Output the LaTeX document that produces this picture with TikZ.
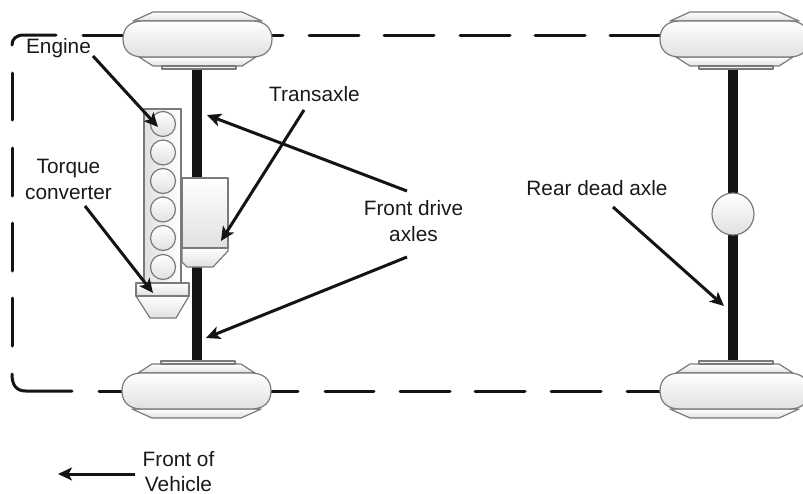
\documentclass[tikz,border=0pt]{standalone}
\usepackage{fontspec}
\setmainfont{Liberation Sans}
\usetikzlibrary{arrows.meta}
\definecolor{edgegray}{HTML}{7A7A7A}
\definecolor{axleblack}{HTML}{141414}
\tikzset{
  x=1pt,y=-1pt,
  part/.style={draw=edgegray,line width=1.2pt,line join=round,top color=white,bottom color=black!12},
  sidepart/.style={draw=edgegray,line width=1.2pt,line join=round,left color=black!12,right color=white},
  axle/.style={line width=10pt,color=axleblack},
  frameline/.style={line width=3pt,color=axleblack,line cap=round},
  pointer/.style={line width=3pt,color=axleblack,-{Stealth[length=14pt,width=13pt,inset=3.5pt]}},
  label/.style={font=\fontsize{20.8}{26}\selectfont,align=center,inner sep=0pt,text=black!90},
  wheel/.pic={
    \path[part] (-64,-18) -- (-44,-27) -- (45,-27) -- (65,-18) -- cycle;
    \path[part] (-58,18) -- (-44,27) -- (45,27) -- (59,18) -- cycle;
    \path[part] (-35,27) rectangle (39,30);
    \path[part] (-74,0) .. controls (-74,-12) and (-66,-18) .. (-54,-18) -- (55,-18) .. controls (67,-18) and (75,-12) .. (75,0) .. controls (75,12) and (67,18) .. (55,18) -- (-54,18) .. controls (-66,18) and (-74,12) .. (-74,0) -- cycle;
  }
}
\begin{document}
\begin{tikzpicture}
\useasboundingbox (0,0) rectangle (803,493);
% frame
\draw[frameline] (12,45) .. controls (12,39) and (16,35) .. (24,35) -- (56,35);
\draw[frameline] (83,35) -- (125,35) (270,35) -- (283,35) (309,35) -- (359,35) (384,35) -- (434,35) (460,35) -- (510,35) (535,35) -- (585,35) (610,35) -- (663,35);
\draw[frameline] (12,73) -- (12,120) (12,148) -- (12,196) (12,223) -- (12,271) (12,298) -- (12,346);
\draw[frameline] (12,374) .. controls (12,385) and (16,391) .. (26,391) -- (72,391);
\draw[frameline] (99,391) -- (125,391) (270,391) -- (298,391) (325,391) -- (374,391) (400,391) -- (450,391) (475,391) -- (525,391) (551,391) -- (601,391) (627,391) -- (663,391);
% axles
\coordinate (ftop) at (197,60);
\coordinate (fbot) at (197,370);
\coordinate (rtop) at (733,60);
\coordinate (rbot) at (733,370);
\draw[axle] (ftop) -- (fbot);
\draw[axle] (rtop) -- (rbot);
% wheels
\pic at (197,39) {wheel};
\pic[yscale=-1] at (196,391) {wheel};
\pic at (734,39) {wheel};
\pic[yscale=-1] at (734,391) {wheel};
% differential
\node[part,circle,minimum size=42pt,inner sep=0pt] (diff) at (733,214) {};
% engine
\node[sidepart,rectangle,minimum width=37pt,minimum height=174pt,inner sep=0pt] (block) at (162.5,196) {};
\foreach \n/\yy in {1/124,2/152.5,3/181,4/209.5,5/238,6/267}
  \node[part,circle,minimum size=25pt,inner sep=0pt] (cyl\n) at (163,\yy) {};
% transaxle
\path[part] (182,248) -- (228,248) -- (228,251) -- (213,267) -- (187,267) -- (182,262) -- cycle;
\node[part,rectangle,minimum width=46pt,minimum height=70pt,inner sep=0pt] (trans) at (205,213) {};
% torque converter
\path[part] (136,296) -- (189,296) -- (176,318) -- (150,318) -- cycle;
\node[part,rectangle,minimum width=53pt,minimum height=13pt,inner sep=0pt] (torque) at (162.5,289.5) {};
% labels
\node[label] (lengine) at (58.5,48) {Engine};
\node[label] (ltorque) at (68.5,179) {Torque\\converter};
\node[label] (ltrans) at (314.5,94) {Transaxle};
\node[label] (lfront) at (413.5,221) {Front drive\\axles};
\node[label] (lrear) at (597,188) {Rear dead axle};
\node[label] (lveh) at (178.5,471.5) {Front of\\[-1pt]Vehicle};
% pointers
\coordinate (e1) at (93,56);
\coordinate (e2) at (158,127);
\coordinate (t1) at (85,206);
\coordinate (t2) at (153,293);
\coordinate (x1) at (304,110);
\coordinate (x2) at (221,241);
\coordinate (f0) at (407,191);
\coordinate (f1) at (207,115);
\coordinate (g0) at (407,257);
\coordinate (g1) at (206,338);
\coordinate (r0) at (613,207);
\coordinate (r1) at (724,306);
\coordinate (v0) at (135,474);
\coordinate (v1) at (58,474);
\draw[pointer] (e1) -- (e2);
\draw[pointer] (t1) -- (t2);
\draw[pointer] (x1) -- (x2);
\draw[pointer] (f0) -- (f1);
\draw[pointer] (g0) -- (g1);
\draw[pointer] (r0) -- (r1);
\draw[pointer] (v0) -- (v1);
\end{tikzpicture}
\end{document}
